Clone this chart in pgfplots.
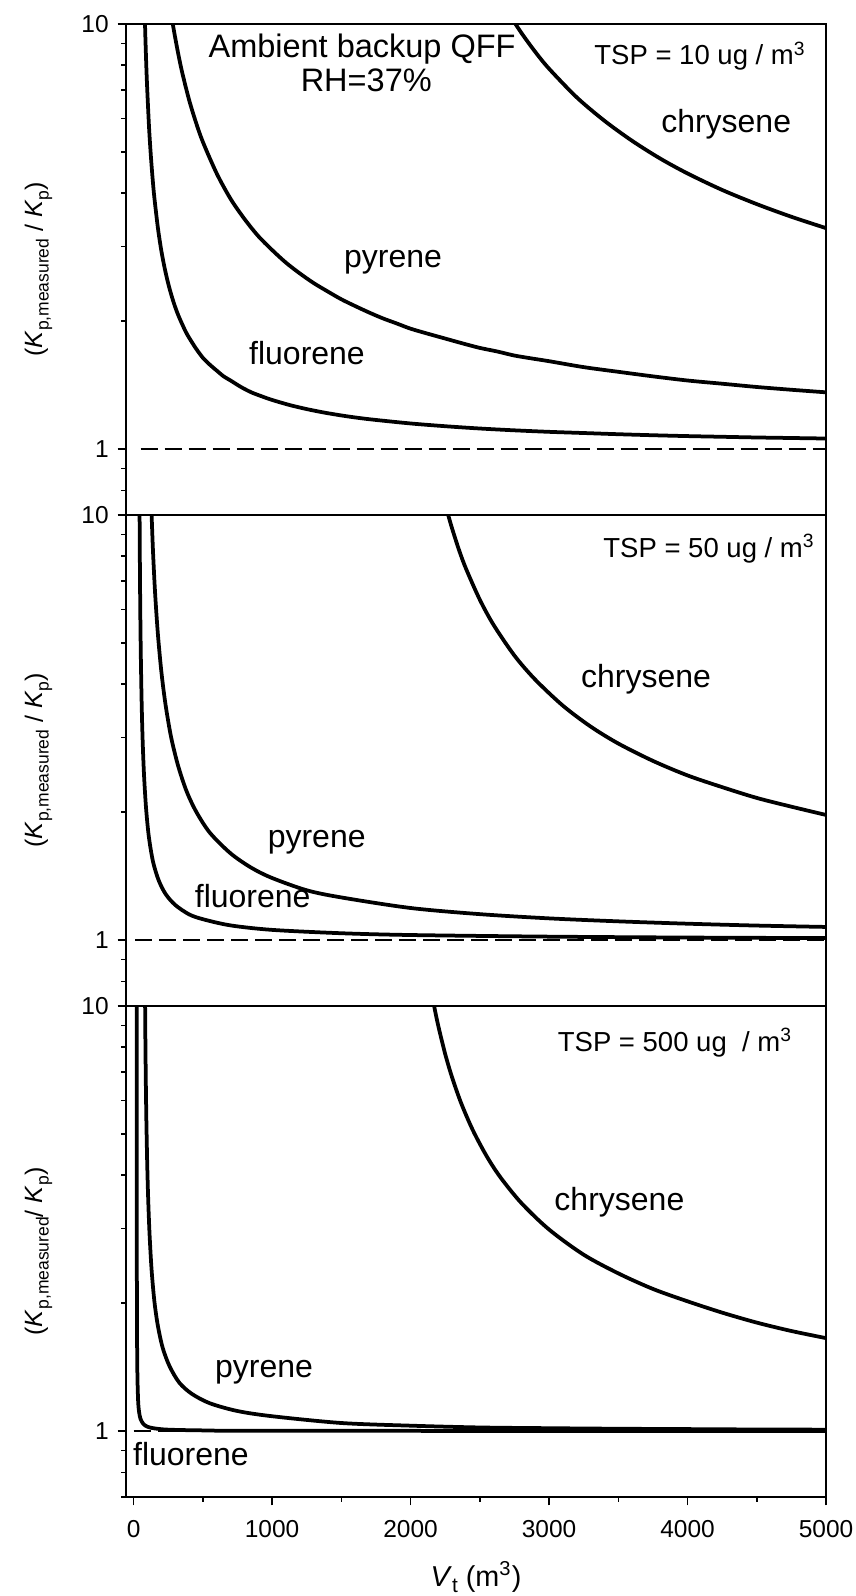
\documentclass[border=0pt]{standalone}
\usepackage{fontspec}
\setmainfont{Liberation Sans}
\usepackage{pgfplots}
\pgfplotsset{compat=1.18}
\newcommand\sub[1]{\raisebox{-0.45ex}{\fontsize{7}{8}\selectfont #1}}
\newcommand\subx[1]{\raisebox{-0.45ex}{\fontsize{8.3}{9}\selectfont #1}}
\newcommand\Klabel{(\textit{K}\sub{p,measured} / \textit{K}\sub{p})}
\pgfplotsset{
 mypanel/.style={
  scale only axis, width=280pt, height=196.4pt,
  anchor=south west,
  xmin=-55, xmax=5000, ymin=0.7, ymax=10,
  ytick={1,10}, yticklabels={1,10},
  minor ytick={0.7,0.8,0.9,2,3,4,5,6,7,8,9},
  ytick pos=left, xtick pos=bottom,
  tick align=outside,
  major tick length=3.4pt, minor tick length=2pt,
  axis line style={line width=0.6pt},
  tick style={black, line width=0.6pt},
  tick label style={font=\fontsize{9.8}{11}\selectfont},
  xticklabel style={yshift=-2.4pt},
  /pgf/number format/assume math mode=true,
  /pgf/number format/1000 sep={},
  every axis y label/.style={at={(axis description cs:-0.125,0.5)},rotate=90,anchor=center,font=\fontsize{10}{12}\selectfont},
 },
}
\tikzset{
 mycurve/.style={black, line width=1.5pt, line join=round, smooth, tension=0.5},
 myunity/.style={black, line width=0.8pt, dash pattern=on 6.8pt off 2.8pt},
 mylab/.style={anchor=base, font=\fontsize{12.8}{14}\selectfont},
 mytsp/.style={anchor=base, font=\fontsize{11}{13}\selectfont},
}
\begin{document}
\begin{tikzpicture}
\useasboundingbox (0,0) rectangle (342pt,638.4pt);
% ---------------- panel 1: TSP = 10
\begin{axis}[ymode=log, mypanel, at={(50.4pt,432.4pt)}, xtick=\empty, ylabel={\Klabel}]
\addplot[myunity] coordinates {(50,1) (5000,1)};
\addplot[mycurve] coordinates {(78,11.36) (85,9.29) (95,7.44) (110,5.83) (120,5.14) (130,4.63) (140,4.22) (150,3.90) (175,3.32) (200,2.93) (225,2.657) (250,2.45) (275,2.289) (300,2.16) (325,2.055) (350,1.97) (375,1.892) (400,1.83) (450,1.725) (500,1.64) (550,1.58) (600,1.53) (650,1.483) (700,1.45) (775,1.40) (850,1.36) (925,1.331) (1000,1.305) (1125,1.27) (1250,1.242) (1375,1.219) (1500,1.20) (1625,1.184) (1750,1.171) (2000,1.149) (2250,1.132) (2500,1.118) (2750,1.107) (3000,1.098) (3250,1.091) (3500,1.084) (3750,1.078) (4000,1.073) (4250,1.069) (4500,1.065) (4750,1.062) (5000,1.059)};
\addplot[mycurve] coordinates {(270,10.64) (290,9.69) (320,8.58) (350,7.71) (400,6.64) (450,5.87) (500,5.28) (600,4.45) (700,3.88) (800,3.48) (900,3.17) (1000,2.94) (1100,2.745) (1200,2.59) (1300,2.458) (1400,2.35) (1500,2.251) (1600,2.17) (1700,2.096) (1800,2.03) (1900,1.975) (2000,1.92) (2125,1.868) (2250,1.82) (2375,1.773) (2500,1.73) (2625,1.697) (2750,1.66) (2875,1.634) (3000,1.61) (3250,1.559) (3500,1.52) (3750,1.483) (4000,1.45) (4250,1.425) (4500,1.40) (4750,1.379) (5000,1.36)};
\addplot[mycurve] coordinates {(2720,10.45) (2800,9.53) (2900,8.60) (3000,7.85) (3200,6.72) (3400,5.92) (3600,5.31) (3800,4.83) (4000,4.45) (4250,4.07) (4500,3.77) (4750,3.52) (5000,3.31)};
\node[anchor=base, font=\fontsize{13}{15}\selectfont] at (axis cs:1650,8.36) {Ambient backup QFF};
\node[anchor=base, font=\fontsize{13}{15}\selectfont] at (axis cs:1680,6.92) {RH=37\%};
\node[mytsp] at (axis cs:4091,8.01) {TSP = 10 ug / m\textsuperscript{3}};
\node[mylab] at (axis cs:4279,5.57) {chrysene};
\node[mylab] at (axis cs:1874,2.68) {pyrene};
\node[mylab] at (axis cs:1252,1.578) {fluorene};
\end{axis}
% ---------------- panel 2: TSP = 50
\begin{axis}[ymode=log, mypanel, at={(50.4pt,236pt)}, xtick=\empty, ylabel={\Klabel}]
\addplot[myunity] coordinates {(10,1) (5000,1)};
\addplot[mycurve] coordinates {(42,12) (43,10.17) (45,7.88) (48,6) (52,4.67) (58,3.62) (65,2.96) (75,2.45) (90,2.04) (110,1.75) (140,1.53) (180,1.385) (230,1.285) (300,1.21) (400,1.15) (500,1.12) (700,1.083) (1000,1.057) (1500,1.038) (2000,1.028) (3000,1.019) (4000,1.014) (5000,1.011)};
\addplot[mycurve] coordinates {(126,10.98) (130,10.0) (140,8.21) (155,6.56) (175,5.26) (200,4.29) (230,3.59) (270,3.01) (320,2.58) (380,2.25) (450,2.01) (550,1.79) (700,1.60) (850,1.48) (1000,1.40) (1250,1.31) (1500,1.26) (2000,1.19) (2500,1.151) (3000,1.125) (3500,1.107) (4000,1.093) (4500,1.082) (5000,1.074)};
\addplot[mycurve] coordinates {(2250,10.63) (2272,9.99) (2300,9.29) (2350,8.27) (2400,7.48) (2500,6.32) (2600,5.51) (2750,4.67) (2900,4.10) (3100,3.56) (3300,3.18) (3500,2.90) (3750,2.64) (4000,2.44) (4250,2.29) (4500,2.16) (4750,2.06) (5000,1.97)};
\node[mytsp] at (axis cs:4156,7.96) {TSP = 50 ug / m\textsuperscript{3}};
\node[mylab] at (axis cs:3700,3.93) {chrysene};
\node[mylab] at (axis cs:1322,1.648) {pyrene};
\node[mylab] at (axis cs:860,1.19) {fluorene};
\end{axis}
% ---------------- panel 3: TSP = 500
\begin{axis}[ymode=log, mypanel, at={(50.4pt,39.6pt)},
  xtick={0,1000,2000,3000,4000,5000},
  minor xtick={500,1500,2500,3500,4500},
  xlabel={\textit{V}\subx{t} (m\textsuperscript{3})},
  every axis x label/.style={at={(axis description cs:0.5,-0.163)},anchor=center,font=\fontsize{11.5}{13}\selectfont},
  ylabel={(\textit{K}\sub{p,measured}/ \textit{K}\sub{p})}]
\addplot[myunity] coordinates {(0,1) (5000,1)};
\addplot[mycurve] coordinates {(22.18,11.56) (22.25,8.6) (22.4,5.75) (22.7,3.71) (23.2,2.58) (24,1.95) (25.5,1.54) (28,1.32) (33,1.17) (40,1.106) (50,1.068) (70,1.04) (100,1.024) (150,1.015) (250,1.008) (500,1.004) (1000,1.002) (5000,1.0)};
\addplot[mycurve] coordinates {(81.5,11.9) (83,10.0) (85,8.3) (88,6.69) (92,5.4) (98,4.28) (105,3.53) (115,2.91) (130,2.39) (150,2.02) (175,1.77) (210,1.57) (260,1.42) (330,1.30) (420,1.224) (550,1.163) (750,1.115) (1000,1.084) (1500,1.045) (2000,1.03) (2500,1.02) (3000,1.016) (3500,1.013) (4000,1.011) (4500,1.009) (5000,1.008)};
\addplot[mycurve] coordinates {(2140,11.32) (2170,10.0) (2200,8.98) (2250,7.71) (2300,6.79) (2366,5.90) (2450,5.10) (2550,4.43) (2650,3.95) (2800,3.44) (3000,2.98) (3250,2.60) (3500,2.35) (3750,2.16) (4000,2.02) (4250,1.90) (4500,1.80) (4750,1.72) (5000,1.655)};
\node[mytsp] at (axis cs:3910,7.81) {TSP = 500 ug\ \ / m\textsuperscript{3}};
\node[mylab] at (axis cs:3508,3.30) {chrysene};
\node[mylab] at (axis cs:942,1.337) {pyrene};
\node[mylab] at (axis cs:414,0.83) {fluorene};
\end{axis}
\end{tikzpicture}
\end{document}
